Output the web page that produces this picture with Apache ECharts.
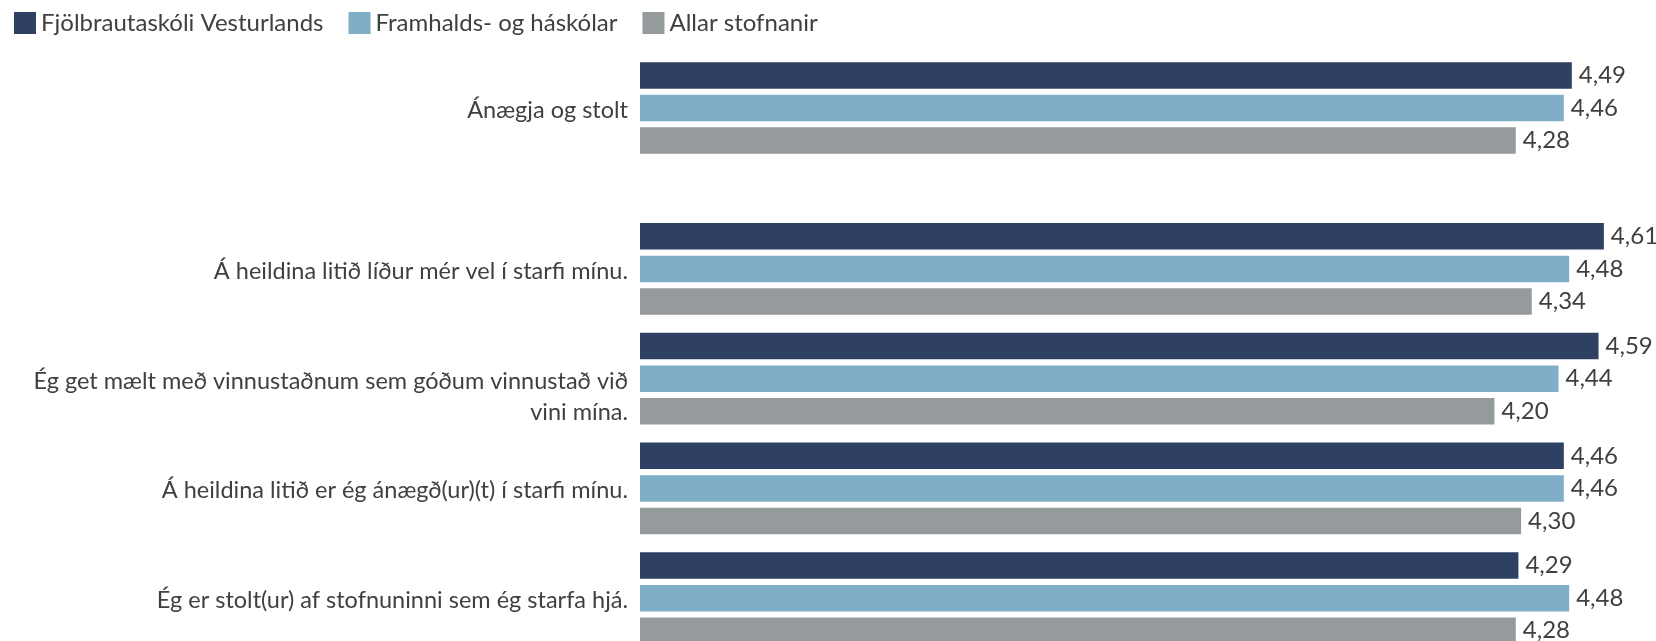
<!DOCTYPE html>
<html style="height: 100%">
   <head>
       <meta charset="utf-8">
   </head>
   <body style="height: 100%; margin: 0; background: #fff">
       <div id="container" style="width: 1656px; height: 641px"></div>
       <script type="text/javascript" src="https://cdn.jsdelivr.net/npm/echarts@6/dist/echarts.min.js"></script>
       <script type="text/javascript">
// yfirflokkur efst, svo spurningarnar
var summaryCategories = ['Ánægja og stolt'];
var itemCategories = [
    'Á heildina litið líður mér vel í starfi mínu.',
    'Ég get mælt með vinnustaðnum sem góðum vinnustað við vini mína.',
    'Á heildina litið er ég ánægð(ur)(t) í starfi mínu.',
    'Ég er stolt(ur) af stofnuninni sem ég starfa hjá.'
];
var seriesNames = ['Fjölbrautaskóli Vesturlands', 'Framhalds- og háskólar', 'Allar stofnanir'];
var fsvSummary = [4.49];
var fhSummary = [4.46];
var allSummary = [4.28];
var fsvValues = [4.61, 4.59, 4.46, 4.29];
var fhValues = [4.48, 4.44, 4.46, 4.48];
var allValues = [4.34, 4.20, 4.30, 4.28];

var colors = ['#2e4163', '#7faec6', '#959a9c'];
var textColor = '#404040';
var fontFamily = 'Lato';
var fontSize = 24;

var dom = document.getElementById("container");
var myChart = echarts.init(dom);

// brjóta langa texta í línur eftir orðum
function wrap(text, maxChars) {
    var words = text.split(' ');
    var lines = [];
    var line = '';
    words.forEach(function (w) {
        if (line && (line + ' ' + w).length > maxChars) {
            lines.push(line);
            line = w;
        } else {
            line = line ? line + ' ' + w : w;
        }
    });
    lines.push(line);
    return lines.join('\n');
}

function makeSeries(name, data, idx, color) {
    return {
        name: name,
        type: 'bar',
        xAxisIndex: idx,
        yAxisIndex: idx,
        data: data,
        barWidth: 26.5,
        barGap: '23%',
        itemStyle: {color: color},
        label: {
            show: true,
            position: 'right',
            distance: 7,
            color: textColor,
            fontFamily: fontFamily,
            fontSize: fontSize,
            formatter: function (p) {
                return p.value.toFixed(2).replace('.', ',');
            }
        }
    };
}

var yLabel = {
    color: textColor,
    fontFamily: fontFamily,
    fontSize: 23.5,
    margin: 12,
    lineHeight: 31,
    verticalAlign: 'top',
    padding: [-13, 0, 0, 0],
    formatter: function (v) {
        return wrap(v, 52);
    }
};

var option = {
    animation: false,
    legend: {
        left: 14,
        top: 11,
        padding: 0,
        itemWidth: 22,
        itemHeight: 22,
        itemGap: 25,
        icon: 'rect',
        data: seriesNames,
        textStyle: {color: textColor, fontFamily: fontFamily, fontSize: fontSize}
    },
    grid: [
        {left: 640, top: 53, width: 1068, height: 110, outerBoundsMode: 'none'},
        {left: 640, top: 214, width: 1068, height: 439, outerBoundsMode: 'none'}
    ],
    xAxis: [
        {gridIndex: 0, type: 'value', min: 1, max: 5, show: false},
        {gridIndex: 1, type: 'value', min: 1, max: 5, show: false}
    ],
    yAxis: [
        {gridIndex: 0, type: 'category', inverse: true, data: summaryCategories,
         axisLine: {show: false}, axisTick: {show: false}, axisLabel: yLabel},
        {gridIndex: 1, type: 'category', inverse: true, data: itemCategories,
         axisLine: {show: false}, axisTick: {show: false}, axisLabel: yLabel}
    ],
    series: [
        makeSeries(seriesNames[0], fsvSummary, 0, colors[0]),
        makeSeries(seriesNames[1], fhSummary, 0, colors[1]),
        makeSeries(seriesNames[2], allSummary, 0, colors[2]),
        makeSeries(seriesNames[0], fsvValues, 1, colors[0]),
        makeSeries(seriesNames[1], fhValues, 1, colors[1]),
        makeSeries(seriesNames[2], allValues, 1, colors[2])
    ]
};

myChart.setOption(option);
       </script>
   </body>
</html>
